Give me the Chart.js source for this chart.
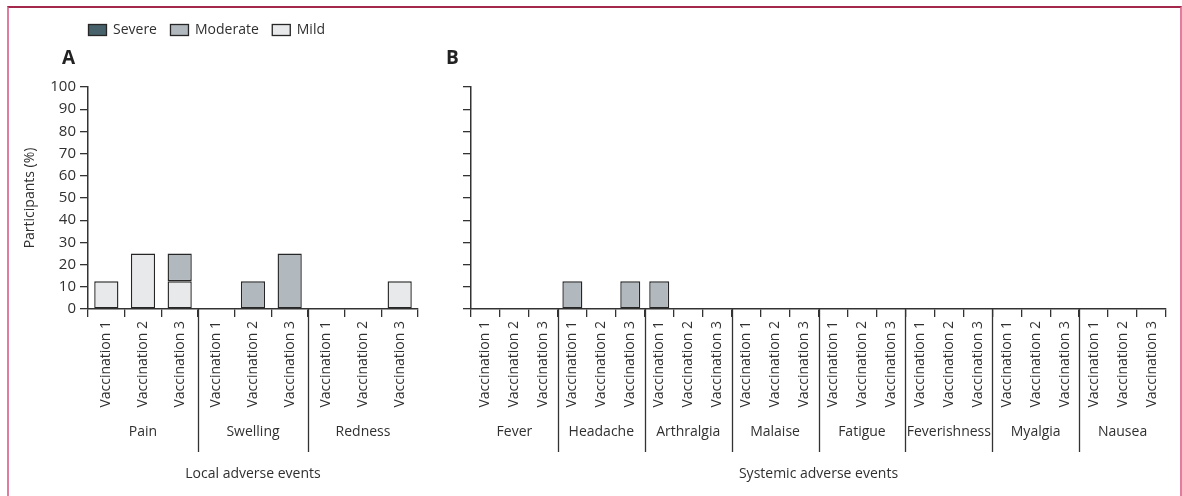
<!DOCTYPE html>
<html lang="en">
<head>
<meta charset="UTF-8">
<script src="https://cdn.jsdelivr.net/npm/chart.js"></script>
<style>
  body { margin: 0; background: #fff; }
  #wrap { position: relative; width: 1182px; height: 496px; overflow: hidden; }
  #wrap canvas { position: absolute; left: 0; top: 0; }
  #frame { position: absolute; left: 7px; top: 6px; width: 1171px; height: 500px;
           border-top: 2px solid #a3284b; border-left: 2px solid #e07c9c; border-right: 2px solid #e07c9c; }
</style>
</head>
<body>
<div id="wrap">
  <div id="frame"></div>
  <canvas id="chartA" width="1182" height="496"></canvas>
  <canvas id="chartB" width="1182" height="496"></canvas>
</div>
<script>
// categories
const vaccinations = ['Vaccination 1', 'Vaccination 2', 'Vaccination 3']
const localEvents = ['Pain', 'Swelling', 'Redness']
const systemicEvents = ['Fever', 'Headache', 'Arthralgia', 'Malaise', 'Fatigue', 'Feverishness', 'Myalgia', 'Nausea']

// participants (%), one value per event x vaccination
const localMild     = [12.5, 25, 12.5,   0, 0, 0,      0, 0, 12.5]
const localModerate = [0, 0, 12.5,       0, 12.5, 25,  0, 0, 0]
const localSevere   = [0, 0, 0,          0, 0, 0,      0, 0, 0]

const systemicMild     = [0,0,0, 0,0,0,       0,0,0, 0,0,0, 0,0,0, 0,0,0, 0,0,0, 0,0,0]
const systemicModerate = [0,0,0, 12.5,0,12.5, 12.5,0,0, 0,0,0, 0,0,0, 0,0,0, 0,0,0, 0,0,0]
const systemicSevere   = [0,0,0, 0,0,0,       0,0,0, 0,0,0, 0,0,0, 0,0,0, 0,0,0, 0,0,0]

const yMax = 100
const yStep = 10

const FONT = "'Open Sans', 'Noto Sans', sans-serif"
const INK = '#303030'
const colors = { Severe: '#48626c', Moderate: '#b1b9bf', Mild: '#e8e9eb' }

Chart.defaults.font.family = FONT
Chart.defaults.color = INK

function makeLabels(events) {
  return events.flatMap(() => vaccinations)
}

function makeDatasets(mild, moderate, severe, pct) {
  return [['Mild', mild], ['Moderate', moderate], ['Severe', severe]].map(([name, vals]) => ({
    label: name,
    data: vals,
    backgroundColor: colors[name],
    borderColor: '#262626',
    borderWidth: 1.4,
    borderSkipped: false,
    barPercentage: 1,
    categoryPercentage: pct
  }))
}

// group separators, group names, panel letter, bottom title and legend
const groupAxis = {
  id: 'groupAxis',
  afterDraw(chart, args, opts) {
    const ctx = chart.ctx
    const xs = chart.scales.x
    const area = chart.chartArea
    ctx.save()
    ctx.strokeStyle = '#333'
    ctx.lineWidth = 1.3
    ctx.fillStyle = INK
    ctx.font = '14px ' + FONT
    ctx.textAlign = 'center'
    ctx.textBaseline = 'middle'
    const n = vaccinations.length
    opts.groups.forEach((g, i) => {
      const x0 = xs.getPixelForValue(i * n)
      const x1 = xs.getPixelForValue(i * n + n - 1)
      ctx.fillText(g, (x0 + x1) / 2, 432)
      if (i > 0) {
        const bx = Math.round((xs.getPixelForValue(i * n - 1) + x0) / 2) + 0.5
        ctx.beginPath()
        ctx.moveTo(bx, area.bottom)
        ctx.lineTo(bx, 452)
        ctx.stroke()
      }
    })
    ctx.fillText(opts.title, (area.left + area.right) / 2, 474)

    ctx.font = 'bold 19px ' + FONT
    ctx.textAlign = 'left'
    ctx.fillStyle = '#222'
    ctx.fillText(opts.letter, opts.letterX, 59)

    if (opts.legend) {
      ctx.font = '14px ' + FONT
      ctx.fillStyle = INK
      let x = area.left
      chart.data.datasets.slice().reverse().forEach(ds => {
        ctx.fillStyle = ds.backgroundColor
        ctx.fillRect(x, 24, 19, 12)
        ctx.strokeStyle = '#262626'
        ctx.lineWidth = 1.3
        ctx.strokeRect(x + 0.5, 24.5, 18, 11)
        ctx.fillStyle = INK
        ctx.fillText(ds.label, x + 25, 30)
        x += 25 + ctx.measureText(ds.label).width + 13
      })
    }
    ctx.restore()
  }
}

function makeChart(id, events, mild, moderate, severe, cfg) {
  return new Chart(document.getElementById(id), {
    type: 'bar',
    data: {
      labels: makeLabels(events),
      datasets: makeDatasets(mild, moderate, severe, cfg.pct)
    },
    plugins: [groupAxis],
    options: {
      responsive: false,
      animation: false,
      devicePixelRatio: 1,
      layout: { padding: { left: 0, right: cfg.padRight, top: 87, bottom: 0 } },
      plugins: {
        legend: { display: false },
        tooltip: { enabled: false },
        groupAxis: { groups: events, title: cfg.title, letter: cfg.letter, letterX: cfg.letterX, legend: cfg.legend }
      },
      scales: {
        x: {
          stacked: true,
          grid: { drawOnChartArea: false, tickLength: 8, color: '#333', lineWidth: 1.3 },
          border: { color: '#333', width: 1.5 },
          ticks: { autoSkip: false, minRotation: 90, maxRotation: 90, padding: 4, color: INK, font: { size: 14 } },
          afterFit: s => { s.height = 187 }
        },
        y: {
          stacked: true,
          min: 0,
          max: yMax,
          grid: { drawOnChartArea: false, tickLength: 8, color: '#333', lineWidth: 1.3 },
          border: { color: '#333', width: 1.5 },
          ticks: { stepSize: yStep, display: cfg.yLabels, padding: 4, color: INK, font: { size: 15 } },
          title: { display: cfg.yLabels, text: 'Participants (%)', color: INK, font: { size: 14 }, padding: { top: 22, bottom: 0 } },
          afterFit: s => { s.width = cfg.yWidth }
        }
      }
    }
  })
}

makeChart('chartA', localEvents, localMild, localModerate, localSevere,
  { pct: 0.66, padRight: 764, yWidth: 88, yLabels: true, title: 'Local adverse events', letter: 'A', letterX: 62, legend: true })
makeChart('chartB', systemicEvents, systemicMild, systemicModerate, systemicSevere,
  { pct: 0.69, padRight: 16, yWidth: 471, yLabels: false, title: 'Systemic adverse events', letter: 'B', letterX: 446, legend: false })
</script>
</body>
</html>
